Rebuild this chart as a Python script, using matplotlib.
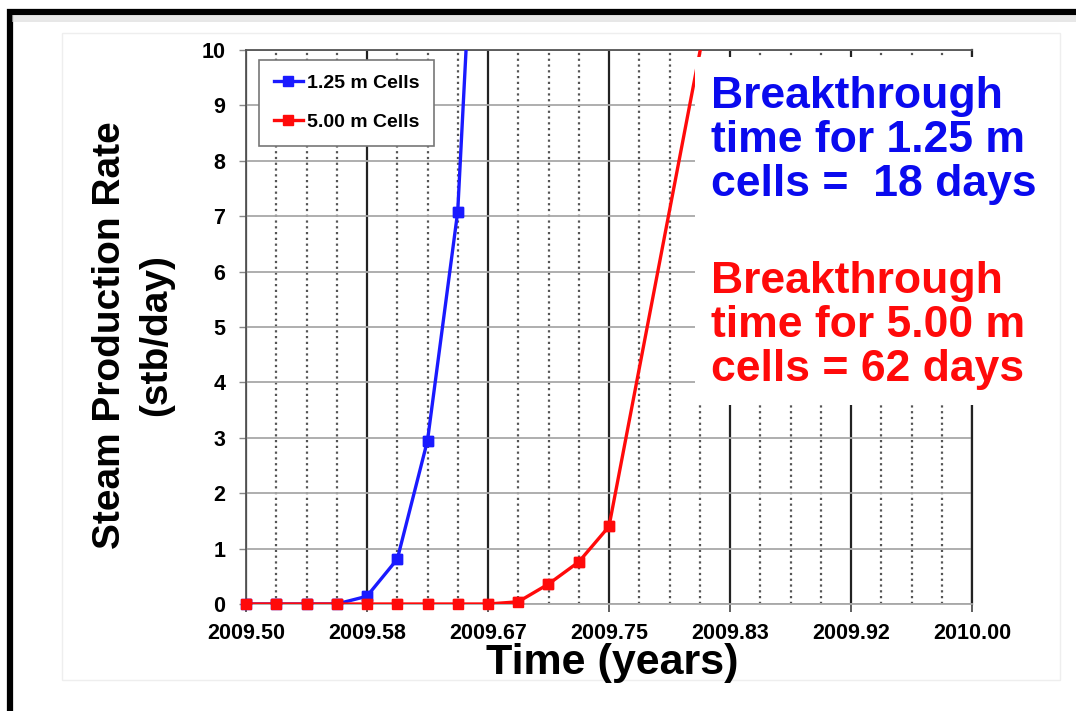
import matplotlib
matplotlib.use("Agg")
import matplotlib.pyplot as plt
from matplotlib.patches import Rectangle

plt.rcParams['font.family'] = ['Liberation Sans', 'DejaVu Sans']
plt.rcParams['font.weight'] = 'bold'

# --- data ---
t_fine = [2009.5000, 2009.5208, 2009.5417, 2009.5625, 2009.5833, 2009.6042,
          2009.6250, 2009.6458, 2009.6667, 2009.6875, 2009.7083, 2009.7292,
          2009.7500]
t_blue = t_fine[:9]
rate_blue = [0, 0, 0, 0, 0.14, 0.81, 2.95, 7.08, 17.7]
t_red = t_fine + [2009.8333]
rate_red = [0, 0, 0, 0, 0, 0, 0, 0, 0, 0.04, 0.36, 0.76, 1.40, 12.8]

major_ticks = [2009.5, 2009.5833, 2009.6667, 2009.75, 2009.8333, 2009.9167, 2010.0]
tick_labels = ["2009.50", "2009.58", "2009.67", "2009.75", "2009.83", "2009.92", "2010.00"]
minor_ticks = [2009.5 + k / 48 for k in range(25) if k % 4]
y_max = 10

W, H = 1076, 711
fig = plt.figure(figsize=(W / 100, H / 100), dpi=100, facecolor='white')


def fx(px):
    return px / W


def fy(py):
    return 1 - py / H


# outer black frame (cut off at right/bottom) + faint inner panel
fig.patches.append(Rectangle((fx(10), fy(760)), fx(1200), 748 / H, transform=fig.transFigure,
                             fill=False, edgecolor='black', lw=4.5, zorder=0))
fig.patches.append(Rectangle((fx(12), fy(22)), fx(1070), 7 / H, transform=fig.transFigure,
                             facecolor='#d8d8d8', edgecolor='none', alpha=0.6, zorder=0))
fig.patches.append(Rectangle((fx(62), fy(680)), fx(998), 647 / H, transform=fig.transFigure,
                             fill=False, edgecolor='#eeeeee', lw=1, zorder=0))

ax = fig.add_axes([fx(246), fy(604), fx(726), 554 / H])
ax.set_xlim(2009.5, 2010.0)
ax.set_ylim(0, y_max)

ax.set_xticks(major_ticks)
ax.set_xticklabels(tick_labels)
ax.set_xticks(minor_ticks, minor=True)
ax.set_yticks(range(0, 11))

ax.tick_params(axis='x', which='major', length=6, width=1.2, pad=8, labelsize=15.5, color='#444444')
ax.tick_params(axis='x', which='minor', length=0)
ax.tick_params(axis='y', length=5, width=1, pad=10, labelsize=15.5, color='#888888')
for lab in ax.get_xticklabels() + ax.get_yticklabels():
    lab.set_fontweight('bold')

ax.grid(True, axis='y', color='#a8a8a8', lw=1.3)
ax.grid(True, axis='x', which='major', color='#222222', lw=1.6)
ax.grid(True, axis='x', which='minor', color='#555555', lw=1.6, ls=(0, (1, 1.6)))
ax.set_axisbelow(True)

for side in ['top', 'left']:
    ax.spines[side].set_color('#555555')
    ax.spines[side].set_linewidth(1.3)
ax.spines['bottom'].set_color('#a8a8a8')
ax.spines['bottom'].set_linewidth(1.3)
ax.spines['right'].set_color('#222222')
ax.spines['right'].set_linewidth(1.6)

for t, r, col, lab, z in [(t_blue, rate_blue, '#1a1aff', '1.25 m Cells', 3),
                          (t_red, rate_red, '#ff0a0a', '5.00 m Cells', 3.1)]:
    ax.plot(t, r, color=col, lw=2.4, marker='s', ms=7.5, label=lab, zorder=z)
    # markers on the zero line must not be cut in half by the axes edge
    inside = [i for i, v in enumerate(r) if v <= y_max]
    ax.plot(t, r, color=col, lw=0, marker='s', ms=7.5, markevery=inside,
            clip_on=False, zorder=z)

leg = ax.legend(loc='upper left', bbox_to_anchor=(0.018, 0.982), borderaxespad=0,
                prop={'weight': 'bold', 'size': 14}, handlelength=1.5, handletextpad=0.2,
                labelspacing=1.1, borderpad=0.75, fancybox=False, framealpha=1)
leg.get_frame().set_edgecolor('#777777')
leg.get_frame().set_linewidth(1.2)
leg.set_zorder(6)

# white box behind the annotation text
ax.add_patch(Rectangle((fx(695), fy(405)), fx(355), 348 / H, transform=fig.transFigure,
                       facecolor='white', edgecolor='none', clip_on=False, zorder=4))

fig.text(fx(711), fy(76), "Breakthrough\ntime for 1.25 m\ncells =  18 days", color='#0a0aee',
         fontsize=32, fontweight='bold', ha='left', va='top', linespacing=1.1, zorder=5)
fig.text(fx(711), fy(261), "Breakthrough\ntime for 5.00 m\ncells = 62 days", color='#ff0a0a',
         fontsize=32, fontweight='bold', ha='left', va='top', linespacing=1.1, zorder=5)

fig.text(fx(133), fy(335), "Steam Production Rate\n(stb/day)", rotation=90, fontsize=28,
         fontweight='bold', ha='center', va='center', multialignment='center', linespacing=1.35)
fig.text(fx(612), fy(663), "Time (years)", fontsize=31, fontweight='bold',
         ha='center', va='center')

fig.savefig('out.png', dpi=100, facecolor='white')
